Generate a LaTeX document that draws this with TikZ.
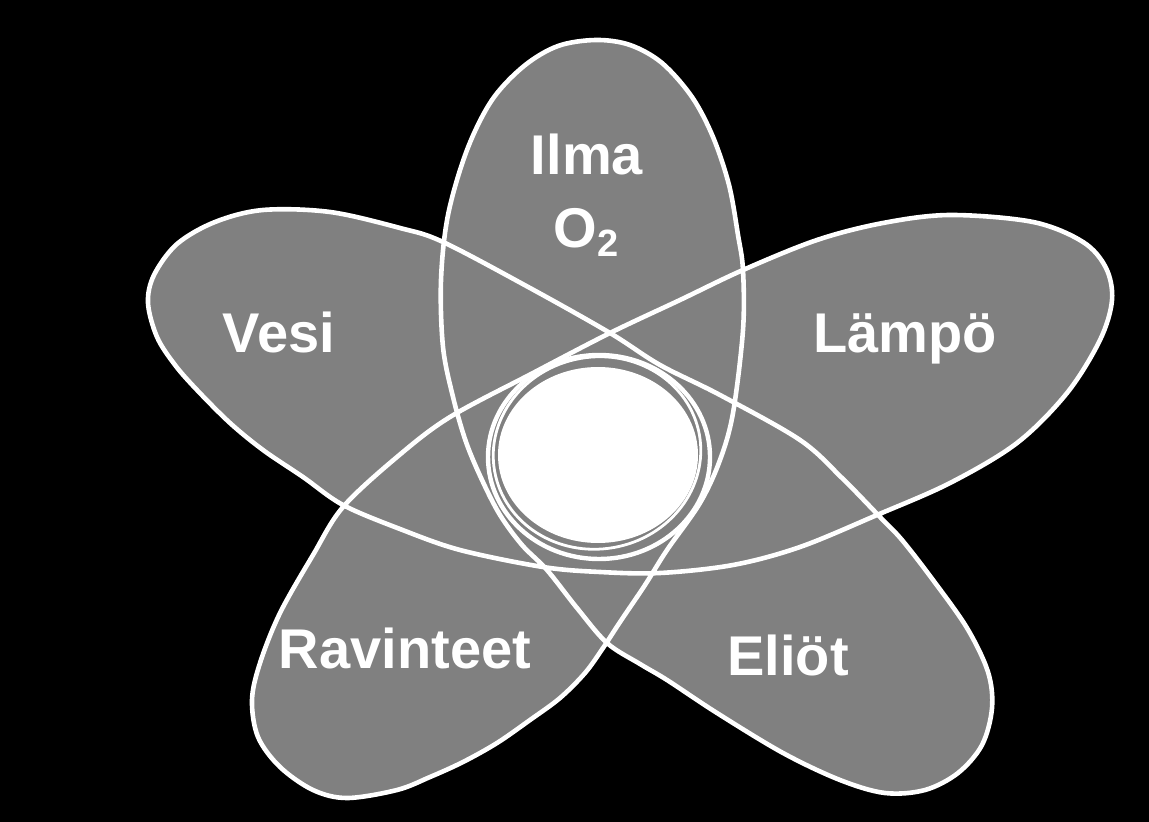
\documentclass[tikz,border=0pt]{standalone}
\usepackage{fontspec}
\setmainfont{Liberation Sans}
\usepackage{tikz}
\usetikzlibrary{positioning}

\begin{document}
\begin{tikzpicture}[x=0.5pt,y=-0.5pt,
  lbl/.style={text=white,font=\fontsize{28}{30}\selectfont\bfseries,inner sep=0pt,anchor=base},
  edge/.style={draw=white,line width=2.3pt,line join=round},
  ring/.style={draw=white,line width=1.4pt}]
  \fill[black] (0,0) rectangle (1149,822);
  \useasboundingbox (0,0) rectangle (1149,822);
  % star of five petals, one closed curve
  \filldraw[edge,fill=black!50!white] plot[smooth cycle,tension=0.55] coordinates {
    (596,40) (558,46) (524,66) (492,100) (467,150) (448,215) (441,280) (443,347)
    (453,397) (466,442) (482,480) (500,515) (522,545) (547,570) (577,608) (607,643)
    (640,664) (667,680) (717,713) (783,753) (840,780) (885,793)
    (925,790) (958,773) (982,745) (992,708)
    (988,672) (967,628) (933,580) (902,540) (880,517) (842,478) (800,440) (720,395)
    (660,365) (610,333) (530,288) (443,242) (400,228) (330,212) (263,210)
    (215,222) (177,244) (154,275) (148,303) (157,337)
    (175,365) (197,390) (230,423) (263,450) (303,477) (343,505) (400,529) (460,550)
    (543,567) (600,572) (660,573) (733,565) (800,547) (877,515) (950,483) (1017,443)
    (1067,393) (1100,340)
    (1112,300) (1106,268) (1083,242) (1033,222) (950,215) (883,223) (817,240)
    (743,270) (680,300) (610,333) (533,373) (450,417) (397,457) (343,507) (313,555)
    (280,613) (260,663)
    (252,700) (258,737) (280,767) (313,790) (347,798) (397,790)
    (430,777) (463,762) (497,743) (530,720) (560,698) (585,673) (603,648) (620,622)
    (645,585) (667,550) (700,503) (720,460) (733,413) (743,330) (743,270) (738,235)
    (729,185) (713,137) (692,97) (662,63) (630,45)};
  % centre
  \fill[white] (598,455) ellipse [x radius=100,y radius=88];
  \draw[ring,line width=2.2pt] (599,457) ellipse [x radius=111,y radius=102];
  \draw[ring,rotate around={10:(597,453)}] (597,453) ellipse [x radius=104,y radius=96];
  % labels
  \node[lbl] (ilma) at (587,175) {Ilma};
  \node[lbl] (happi) at (586,248) {O\raisebox{-4.5pt}{\fontsize{19}{20}\selectfont 2}};
  \node[lbl] (vesi) at (279,353) {Vesi};
  \node[lbl] (lampo) at (905,353) {Lämpö};
  \node[lbl] (ravinteet) at (405,668) {Ravinteet};
  \node[lbl] (eliot) at (788,675) {Eliöt};
\end{tikzpicture}
\end{document}
